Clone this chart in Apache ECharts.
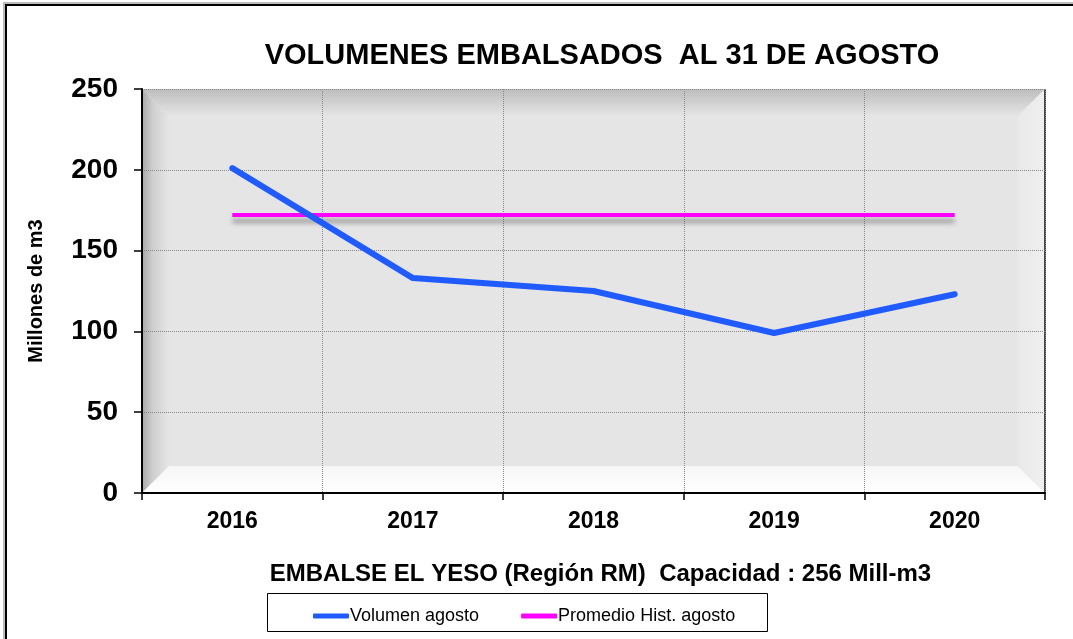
<!DOCTYPE html>
<html>
<head>
<meta charset="utf-8">
<title>Volumenes embalsados</title>
<script src="https://cdn.jsdelivr.net/npm/echarts@6/dist/echarts.min.js"></script>
<style>
  html, body { margin: 0; padding: 0; background: #fff; }
  #chart { width: 1073px; height: 639px; }
</style>
</head>
<body>
<div id="chart"></div>
<script>
// datos
const years = ['2016', '2017', '2018', '2019', '2020']
const volumenAgosto = [201, 133, 125, 99, 123]
const promedioHist = [172, 172, 172, 172, 172]
const yTicks = { min: 0, max: 250, interval: 50 }

const chart = echarts.init(document.getElementById('chart'))

// caja del area de grafico (pixeles)
const P = { left: 142, top: 89, right: 1045, bottom: 493 }
const bev = 27

chart.setOption({
  animation: false,
  textStyle: { fontFamily: 'Liberation Sans, Arial, sans-serif' },
  title: {
    text: 'VOLUMENES EMBALSADOS  AL 31 DE AGOSTO',
    left: 597,
    textAlign: 'center',
    top: 36,
    textStyle: { fontSize: 29, fontWeight: 'bold', color: '#000' }
  },
  legend: {
    left: 308,
    top: 602,
    itemWidth: 36,
    itemHeight: 5,
    itemGap: 42,
    icon: 'roundRect',
    textStyle: { fontSize: 18, color: '#000', padding: [0, 0, 0, -4] },
    data: ['Volumen agosto', 'Promedio Hist. agosto']
  },
  grid: {
    left: P.left,
    top: P.top,
    right: 1073 - P.right,
    bottom: 639 - P.bottom
  },
  graphic: [
    // marco exterior
    { type: 'rect', shape: { x: 4, y: 3, width: 1200, height: 800 }, style: { fill: 'none', stroke: '#bbb', lineWidth: 2 }, z: -10 },
    { type: 'rect', shape: { x: 6, y: 5, width: 1200, height: 800 }, style: { fill: 'none', stroke: '#000', lineWidth: 2 }, z: -10 },
    // fondo del area de grafico
    { type: 'rect', silent: true, z: -3, shape: { x: P.left, y: P.top, width: P.right - P.left, height: P.bottom - P.top }, style: { fill: '#e5e5e5' } },
    // biselado del fondo
    {
      type: 'polygon', silent: true, z: -2,
      shape: { points: [[P.left, P.top], [P.right, P.top], [P.right - bev, P.top + bev], [P.left + bev, P.top + bev]] },
      style: { fill: new echarts.graphic.LinearGradient(0, 0, 0, 1, [{ offset: 0, color: '#bdbdbd' }, { offset: 1, color: '#e5e5e5' }]) }
    },
    {
      type: 'polygon', silent: true, z: -2,
      shape: { points: [[P.left, P.top], [P.left + bev, P.top + bev], [P.left + bev, P.bottom - bev], [P.left, P.bottom]] },
      style: { fill: new echarts.graphic.LinearGradient(0, 0, 1, 0, [{ offset: 0, color: '#a8a8a8' }, { offset: 0.4, color: '#cfcfcf' }, { offset: 1, color: '#e5e5e5' }]) }
    },
    {
      type: 'polygon', silent: true, z: -2,
      shape: { points: [[P.left, P.bottom], [P.left + bev, P.bottom - bev], [P.right - bev, P.bottom - bev], [P.right, P.bottom]] },
      style: { fill: new echarts.graphic.LinearGradient(0, 0, 0, 1, [{ offset: 0, color: '#f6f6f6' }, { offset: 1, color: '#ffffff' }]) }
    },
    {
      type: 'polygon', silent: true, z: -2,
      shape: { points: [[P.right, P.top], [P.right, P.bottom], [P.right - bev, P.bottom - bev], [P.right - bev, P.top + bev]] },
      style: { fill: new echarts.graphic.LinearGradient(0, 0, 1, 0, [{ offset: 0, color: '#e9e9e9' }, { offset: 1, color: '#efefef' }]) }
    },
    // borde derecho oscuro
    { type: 'line', silent: true, shape: { x1: P.right, y1: P.top, x2: P.right, y2: P.bottom }, style: { stroke: '#444', lineWidth: 2 } },
    // caja de la leyenda
    { type: 'rect', shape: { x: 267.5, y: 593.5, width: 500, height: 38 }, style: { fill: 'none', stroke: '#000', lineWidth: 1 } }
  ],
  xAxis: {
    type: 'category',
    data: years,
    boundaryGap: true,
    name: 'EMBALSE EL YESO (Región RM)  Capacidad : 256 Mill-m3',
    nameLocation: 'middle',
    nameGap: 69,
    nameTextStyle: { fontSize: 24, fontWeight: 'bold', color: '#000', padding: [0, 0, 0, 14] },
    axisLine: { lineStyle: { color: '#000', width: 2 } },
    axisTick: { show: true, length: 7, lineStyle: { color: '#000', width: 1.5 } },
    axisLabel: { fontSize: 23, fontWeight: 'bold', color: '#000', margin: 17 },
    splitLine: { show: true, lineStyle: { color: '#888', type: 'dotted', width: 1 } }
  },
  yAxis: {
    type: 'value',
    min: yTicks.min,
    max: yTicks.max,
    interval: yTicks.interval,
    name: 'Millones de m3',
    nameLocation: 'middle',
    nameGap: 96,
    nameTextStyle: { fontSize: 20, fontWeight: 'bold', color: '#000' },
    axisLine: { show: true, lineStyle: { color: '#000', width: 2 } },
    axisTick: { show: true, length: 8, lineStyle: { color: '#000', width: 1.5 } },
    axisLabel: { fontSize: 28, fontWeight: 'bold', color: '#000', margin: 24 },
    splitLine: { show: true, lineStyle: { color: '#888', type: 'dotted', width: 1 } }
  },
  series: [
    {
      name: 'Volumen agosto',
      type: 'line',
      data: volumenAgosto,
      symbol: 'none',
      color: '#1f5bff',
      lineStyle: { width: 6, color: '#1f5bff', cap: 'round', join: 'round' },
      z: 3
    },
    {
      name: 'Promedio Hist. agosto',
      type: 'line',
      data: promedioHist,
      symbol: 'none',
      color: '#ff00ff',
      lineStyle: {
        width: 4,
        color: '#ff00ff',
        shadowColor: 'rgba(0,0,0,0.35)',
        shadowBlur: 5,
        shadowOffsetY: 6
      },
      z: 2
    }
  ]
})
</script>
</body>
</html>
